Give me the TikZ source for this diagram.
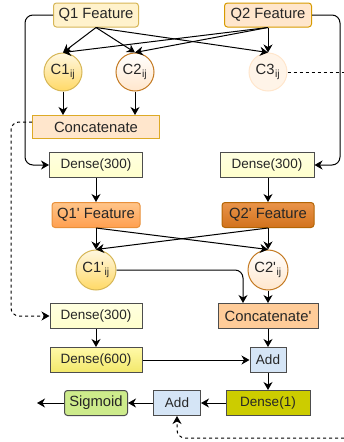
\documentclass[tikz,border=0pt]{standalone}
\usepackage{fontspec}
\setmainfont{Liberation Sans}
\usetikzlibrary{arrows.meta,calc}
\definecolor{featA}{HTML}{FFF2CC}
\definecolor{featAd}{HTML}{D6B656}
\definecolor{featB}{HTML}{FFE6CC}
\definecolor{featBd}{HTML}{D79B00}
\definecolor{circY}{HTML}{FFD966}
\definecolor{circO}{HTML}{C47A22}
\definecolor{densY}{HTML}{FFFFCC}
\definecolor{edgeG}{HTML}{4D4D4D}
\definecolor{qaTop}{HTML}{FFC58A}
\definecolor{qaBot}{HTML}{FF9F4F}
\definecolor{qaLine}{HTML}{E8903A}
\definecolor{qbTop}{HTML}{E9944A}
\definecolor{qbBot}{HTML}{D2721C}
\definecolor{qbLine}{HTML}{B46504}
\definecolor{catB}{HTML}{FFCC99}
\definecolor{d600T}{HTML}{FFF9A8}
\definecolor{d600B}{HTML}{F2E86A}
\definecolor{addB}{HTML}{D5E5F6}
\definecolor{oneB}{HTML}{CCCC00}
\definecolor{sigB}{HTML}{CDEB8B}
\newcommand{\qpr}{\textquotesingle}
\newcommand{\cij}[1]{#1\textsubscript{\kern0.5pt ij}}

\begin{document}
\begin{tikzpicture}[x=1pt,y=-1pt,line width=1pt,
	every node/.style={inner sep=0pt,text=black!85},
	big/.style={font=\fontsize{14.8}{17}\selectfont},
	small/.style={font=\fontsize{13.5}{16}\selectfont},
	feat/.style={big,rounded corners=3pt,minimum height=24pt},
	circ/.style={big,circle,minimum size=38pt},
	dense/.style={small,draw=edgeG,minimum height=25pt},
	arr/.style={-{Stealth[length=8pt,width=9pt,inset=2.5pt]}},
	]

	\useasboundingbox (0,0) rectangle (344,442);

	% first level
	\node[feat,fill=featA,draw=featAd,minimum width=85pt] (qA) at (96,15) {Q1 Feature};
	\node[feat,fill=featB,draw=featBd,minimum width=87pt] (qB) at (268,15) {Q2 Feature};

	\node[circ,top color=featA!60,bottom color=circY,draw=featAd] (cA) at (63,72) {\cij{C1}};
	\node[circ,top color=white,bottom color=featB,draw=circO] (cB) at (135,72) {\cij{C2}};
	\node[circ,fill=featB!45,draw=featB] (cC) at (268,72) {\cij{C3}};

	\node[big,fill=featB,draw=featBd!85,minimum width=127pt,minimum height=23pt] (kA) at (96,127) {Concatenate};

	\node[dense,top color=densY!60,bottom color=densY,minimum width=93pt] (dA) at (96,165) {Dense(300)};
	\node[dense,top color=densY!60,bottom color=densY,minimum width=94pt] (dB) at (267,165) {Dense(300)};

	% second level
	\node[feat,top color=qaTop,bottom color=qaBot,draw=qaLine,minimum width=88pt,minimum height=25pt] (qC) at (96,215) {Q1\qpr{} Feature};
	\node[feat,top color=qbTop,bottom color=qbBot,draw=qbLine,minimum width=92pt,minimum height=25pt] (qD) at (268,215) {Q2\qpr{} Feature};

	\node[circ,minimum size=40pt,top color=featA!60,bottom color=circY,draw=featAd] (cD) at (96,270) {\cij{C1\qpr}};
	\node[circ,minimum size=40pt,top color=white,bottom color=featB,draw=circO] (cE) at (268,270) {\cij{C2\qpr}};

	\node[big,fill=catB,draw=edgeG,minimum width=100pt,minimum height=25pt] (kB) at (268,316) {Concatenate\qpr};

	\node[dense,top color=densY!60,bottom color=densY,minimum width=92pt] (dC) at (96,316) {Dense(300)};
	\node[dense,top color=d600T,bottom color=d600B,minimum width=92pt] (dD) at (96,360) {Dense(600)};

	\node[dense,fill=addB,minimum width=36pt] (aA) at (268,360) {Add};
	\node[dense,fill=oneB,minimum width=84pt] (dE) at (268,403) {Dense(1)};
	\node[dense,fill=addB,minimum width=47pt] (aB) at (177,403) {Add};
	\node[big,fill=sigB,draw=edgeG,rounded corners=3pt,minimum width=63pt,minimum height=25pt] (sA) at (96,403) {Sigmoid};

	\coordinate (eC) at (344,72);
	\coordinate (eR) at (344,438);
	\coordinate (sO) at (37,403);

	% connectors
	\draw[arr] (qA.south) -- (cA.north);
	\draw[arr] (qA.south) -- (cB.north);
	\draw[arr] (qA.south) -- (cC.north);
	\draw[arr] (qB.south) -- (cA.north);
	\draw[arr] (qB.south) -- (cB.north);
	\draw[arr] (qB.south) -- (cC.north);

	\draw[arr] (cA.south) -- (cA.south |- kA.north);
	\draw[arr] (cB.south) -- (cB.south |- kA.north);

	\draw[arr,rounded corners=8pt] (qA.west) -- ++(-28,0) |- (dA.west);
	\draw[arr,rounded corners=8pt] (qB.east) -- ++(28,0) |- (dB.east);
	\draw[dashed] (cC.east) -- (eC);
	\draw[arr,dashed,rounded corners=8pt] ([yshift=5pt]kA.west) -- ++(-21,0) |- (dC.west);

	\draw[arr] (dA.south) -- (qC.north);
	\draw[arr] (dB.south -| qD.north) -- (qD.north);

	\draw[arr] (qC.south) -- (cD.north);
	\draw[arr] (qC.south) -- (cE.north);
	\draw[arr] (qD.south) -- (cE.north);
	\draw[arr] (qD.south) -- (cD.north);

	\draw[arr,rounded corners=8pt] (cD.east) -| ($(kB.north)+(-25,0)$);
	\draw[arr] (cE.south) -- (kB.north);

	\draw[arr] (dC.south) -- (dD.north);
	\draw[arr] (dD.east) -- (aA.west);
	\draw[arr] (kB.south) -- (aA.north);
	\draw[arr] (aA.south) -- (dE.north);
	\draw[arr] (dE.west) -- (aB.east);
	\draw[arr] (aB.west) -- (sA.east);
	\draw[arr] (sA.west) -- (sO);
	\draw[arr,dashed,rounded corners=8pt] (eR) -| (aB.south);

\end{tikzpicture}
\end{document}
